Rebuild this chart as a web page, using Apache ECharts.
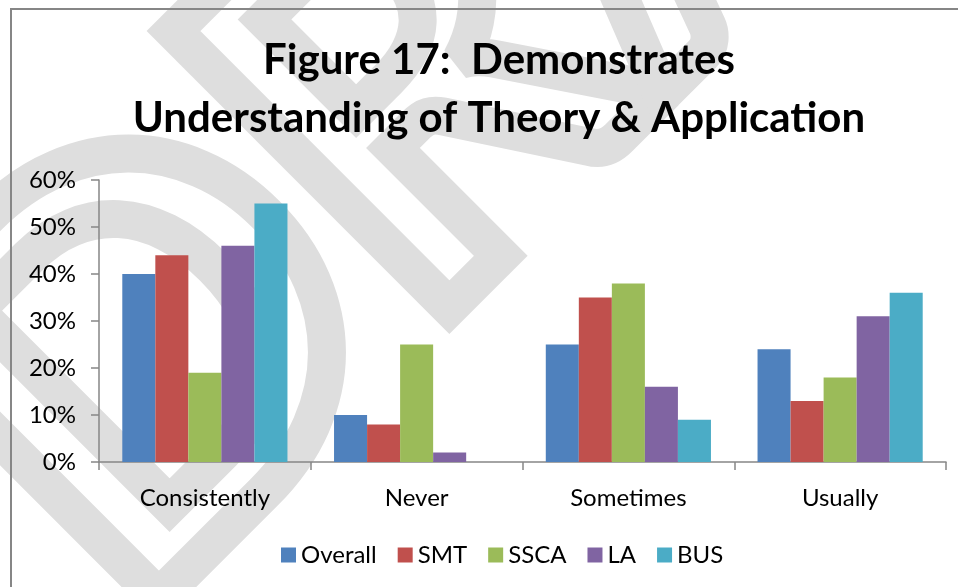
<!DOCTYPE html>
<html>
  <head>
    <meta charset="UTF-8">
    <title>Figure 17</title>
    <script src="https://cdn.jsdelivr.net/npm/echarts@6/dist/echarts.min.js"></script>
    <style>
      html, body { margin: 0; padding: 0; background: #fff; }
    </style>
  </head>
  <body>
    <div id="myChart" style="width: 958px;height:587px;"></div>
    <script type="text/javascript">
      var categories = ['Consistently', 'Never', 'Sometimes', 'Usually'];
      var seriesNames = ['Overall', 'SMT', 'SSCA', 'LA', 'BUS'];
      var overall = [40, 10, 25, 24];
      var smt = [44, 8, 35, 13];
      var ssca = [19, 25, 38, 18];
      var la = [46, 2, 16, 31];
      var bus = [55, 0, 9, 36];
      var yTicks = [0, 10, 20, 30, 40, 50, 60];

      var colors = ['#4F81BD', '#C0504D', '#9BBB59', '#8064A2', '#4BACC6'];
      var values = [overall, smt, ssca, la, bus];
      var font = 'Lato';

      var myChart = echarts.init(document.getElementById('myChart'));

      var option = {
        backgroundColor: '#fff',
        color: colors,
        textStyle: { fontFamily: font },
        title: {
          text: 'Figure 17:  Demonstrates\nUnderstanding of Theory & Application',
          left: 494,
          top: 26,
          textAlign: 'center',
          textStyle: {
            fontFamily: font,
            fontWeight: 'bold',
            fontSize: 42,
            lineHeight: 58,
            color: '#000'
          }
        },
        graphic: [{
          // DRAFT watermark behind the chart
          type: 'text',
          silent: true,
          z: -10,
          x: 5,
          y: 505,
          rotation: 0.785,
          style: {
            text: 'DRAFT',
            font: 'bold 540px Lato',
            fill: 'none',
            stroke: '#dedede',
            lineWidth: 38,
            lineJoin: 'round',
            textAlign: 'left',
            textVerticalAlign: 'middle'
          }
        }, {
          type: 'rect',
          silent: true,
          z: 100,
          shape: { x: 11, y: 9, width: 1100, height: 700 },
          style: { fill: 'none', stroke: '#868686', lineWidth: 2 }
        }],
        legend: {
          bottom: 15,
          left: 276,
          itemWidth: 15,
          itemHeight: 15,
          itemGap: 21,
          icon: 'rect',
          data: seriesNames,
          textStyle: { fontFamily: font, fontSize: 24, color: '#000' }
        },
        grid: {
          left: 99,
          right: 12,
          top: 180,
          bottom: 125
        },
        xAxis: {
          type: 'category',
          data: categories,
          axisLine: { lineStyle: { color: '#868686', width: 1.5 } },
          axisTick: { show: true, length: 8, lineStyle: { color: '#868686', width: 1.5 } },
          axisLabel: { margin: 24, fontSize: 24, color: '#000', fontFamily: font }
        },
        yAxis: {
          type: 'value',
          min: yTicks[0],
          max: yTicks[yTicks.length - 1],
          interval: 10,
          splitLine: { show: false },
          axisLine: { show: true, lineStyle: { color: '#868686', width: 1.5 } },
          axisTick: { show: true, length: 8, lineStyle: { color: '#868686', width: 1.5 } },
          axisLabel: { margin: 23, fontSize: 24, color: '#000', fontFamily: font, formatter: '{value}%' }
        },
        series: seriesNames.map(function (name, i) {
          return {
            name: name,
            type: 'bar',
            data: values[i],
            barGap: '0%',
            barCategoryGap: '22%',
            itemStyle: { color: colors[i] }
          };
        })
      };

      myChart.setOption(option);
    </script>
  </body>
</html>
